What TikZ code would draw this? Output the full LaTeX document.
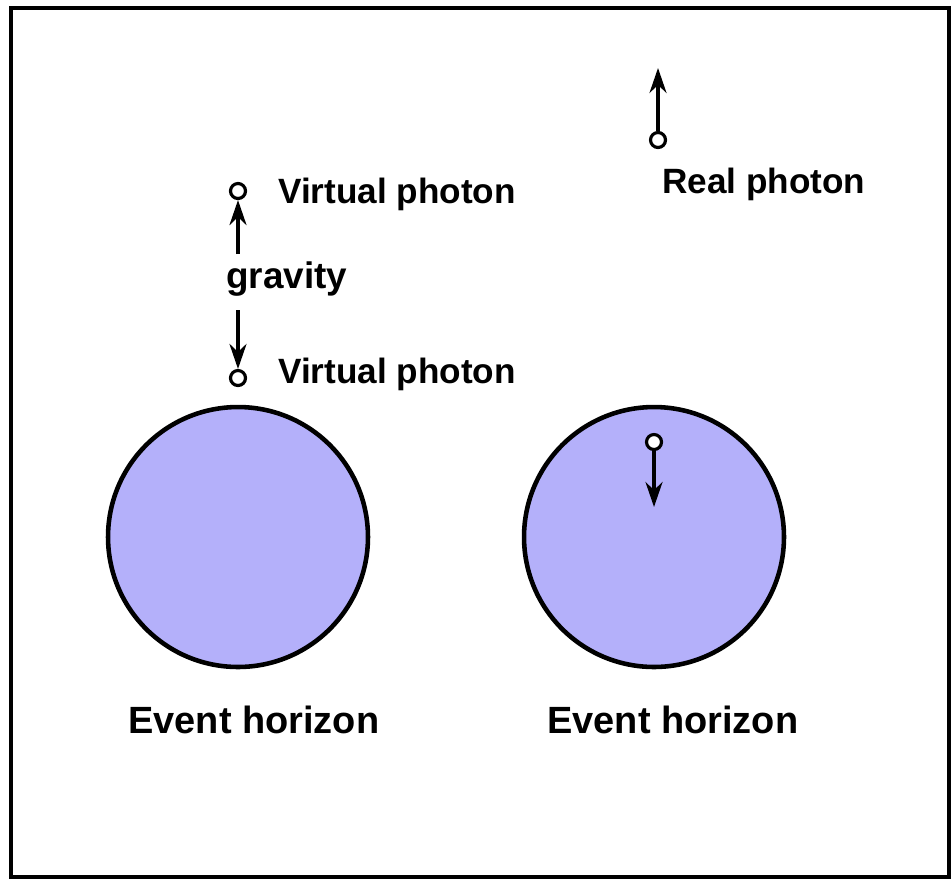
\documentclass[tikz,border=0pt]{standalone}
\usepackage{fontspec}
\setmainfont{Liberation Sans}
\usetikzlibrary{arrows.meta}
\definecolor{horizon}{RGB}{180,176,250}

\tikzset{
  hole/.style={circle, draw=black, line width=2.6pt, fill=horizon, minimum size=5.2cm, inner sep=0pt},
  photon/.style={circle, draw=black, line width=1.8pt, fill=white, minimum size=3mm, inner sep=0pt},
  pull/.style={line width=2pt, -{Stealth[length=5mm, width=3.4mm]}},
  lbl/.style={font=\bfseries\fontsize{20}{24}\selectfont, inner sep=0pt, anchor=base west},
  biglbl/.style={lbl, font=\bfseries\fontsize{21.6}{26}\selectfont}
}

\begin{document}
\begin{tikzpicture}[x=0.02cm, y=-0.02cm]
  \useasboundingbox (0,0) rectangle (952,880);
  % Frame
  \draw[line width=2.8pt] (11,8) rectangle (949,877);

  % Black holes
  \node[hole] (left hole) at (238,537) {};
  \node[hole] (right hole) at (654,537) {};
  \node[biglbl] (left horizon) at (128,733) {Event horizon};
  \node[biglbl] (right horizon) at (547,733) {Event horizon};

  % Virtual photon pair
  \node[photon] (vtop) at (238,191) {};
  \node[photon] (vbot) at (238,378) {};
  \coordinate (gup) at (238,254);
  \coordinate (gdown) at (238,310);
  \draw[pull] (gup) -- (vtop);
  \draw[pull] (gdown) -- (vbot);
  \node[lbl] (top label) at (278,203) {Virtual photon};
  \node[lbl, font=\bfseries\fontsize{21}{25}\selectfont] (gravity) at (226,288) {gravity};
  \node[lbl] (bottom label) at (278,383) {Virtual photon};

  % Escaping photon
  \node[photon] (real) at (658,140) {};
  \coordinate (away) at (658,68);
  \draw[pull] (real) -- (away);
  \node[lbl] (real label) at (662,193) {Real photon};

  % Photon falling in
  \node[photon] (trapped) at (654,442) {};
  \coordinate (inside) at (654,507);
  \draw[pull] (trapped) -- (inside);
\end{tikzpicture}
\end{document}
